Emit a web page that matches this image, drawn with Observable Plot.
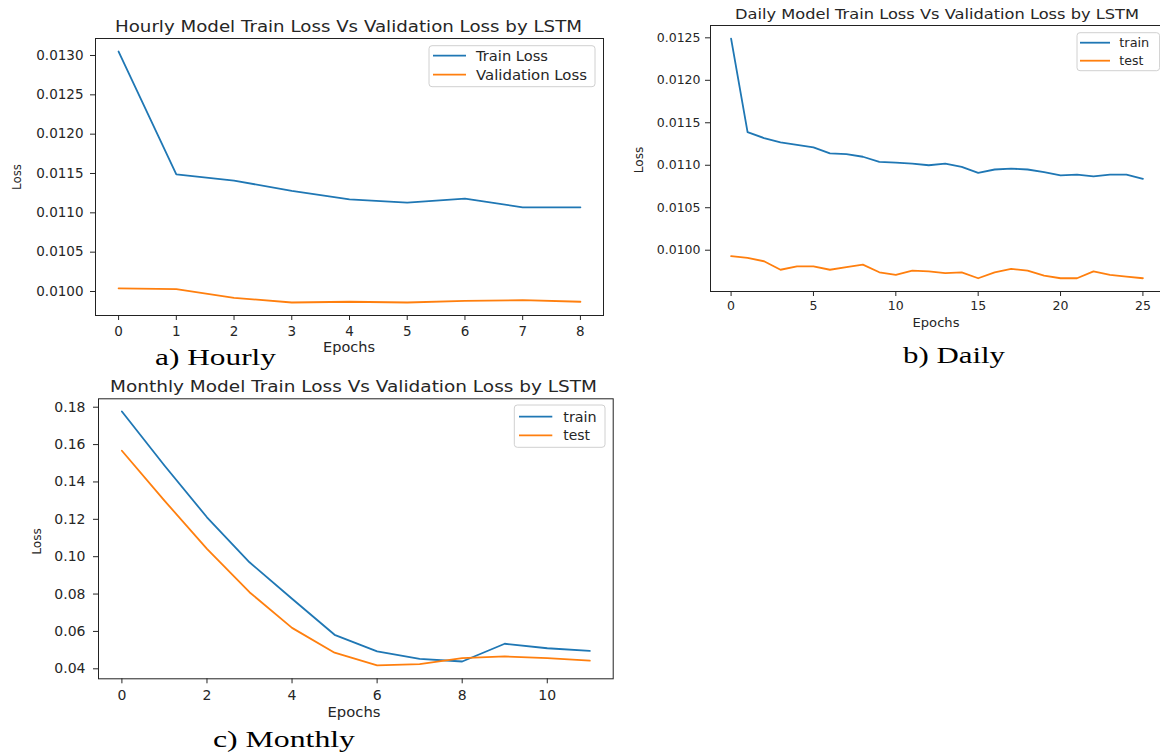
<!DOCTYPE html>
<html>
<head>
<meta charset="utf-8">
<script src="https://cdn.jsdelivr.net/npm/d3@7"></script>
<script src="https://cdn.jsdelivr.net/npm/@observablehq/plot@0.6"></script>
<style>
  html, body { margin: 0; padding: 0; background: #fff; overflow: hidden; }
  #page { position: relative; width: 1160px; height: 753px; overflow: hidden; background: #fff; }
  .panel { position: absolute; }
  #overlay { position: absolute; left: 0; top: 0; pointer-events: none; }
</style>
</head>
<body>
<div id="page">
  <div id="pa" class="panel" style="left:0px;top:0px;"></div>
  <div id="pb" class="panel" style="left:630px;top:0px;"></div>
  <div id="pc" class="panel" style="left:0px;top:375px;"></div>
</div>
<script>
// ---------------- data ----------------
const hourlyTrain = [0.01305, 0.01149, 0.01141, 0.01128, 0.01117, 0.01113, 0.01118, 0.01107, 0.01107];
const hourlyVal   = [0.01004, 0.01003, 0.00992, 0.00986, 0.00987, 0.00986, 0.00988, 0.00989, 0.00987];

const dailyTrain = [0.01249, 0.01139, 0.01132, 0.01127, 0.01124, 0.01121, 0.01114, 0.01113, 0.01110, 0.01104,
                    0.01103, 0.01102, 0.01100, 0.01102, 0.01098, 0.01091, 0.01095, 0.01096, 0.01095, 0.01092,
                    0.01088, 0.01089, 0.01087, 0.01089, 0.01089, 0.01084];
const dailyTest  = [0.00993, 0.00991, 0.00987, 0.00977, 0.00981, 0.00981, 0.00977, 0.00980, 0.00983, 0.00974,
                    0.00971, 0.00976, 0.00975, 0.00973, 0.00974, 0.00967, 0.00974, 0.00978, 0.00976, 0.00970,
                    0.00967, 0.00967, 0.00975, 0.00971, 0.00969, 0.00967];

const monthlyTrain = [0.1777, 0.1488, 0.1211, 0.0970, 0.0775, 0.0582, 0.0493, 0.0453, 0.0439, 0.0534, 0.0510, 0.0496];
const monthlyTest  = [0.1567, 0.1300, 0.1042, 0.0810, 0.0619, 0.0486, 0.0418, 0.0425, 0.0457, 0.0466, 0.0457, 0.0444];

const hourlyXTicks  = [0, 1, 2, 3, 4, 5, 6, 7, 8];
const hourlyYTicks  = [0.0100, 0.0105, 0.0110, 0.0115, 0.0120, 0.0125, 0.0130];
const dailyXTicks   = [0, 5, 10, 15, 20, 25];
const dailyYTicks   = [0.0100, 0.0105, 0.0110, 0.0115, 0.0120, 0.0125];
const monthlyXTicks = [0, 2, 4, 6, 8, 10];
const monthlyYTicks = [0.04, 0.06, 0.08, 0.10, 0.12, 0.14, 0.16, 0.18];

const titles = {
  a: "Hourly Model Train Loss Vs Validation Loss by LSTM",
  b: "Daily Model Train Loss Vs Validation Loss by LSTM",
  c: "Monthly Model Train Loss Vs Validation Loss by LSTM"
};
const captions = { a: "a) Hourly", b: "b) Daily", c: "c) Monthly" };
const legendA = ["Train Loss", "Validation Loss"];
const legendBC = ["train", "test"];

const BLUE = "#1f77b4", ORANGE = "#ff7f0e", INK = "#262626";

function rows(values) { return values.map((v, i) => ({epoch: i, loss: v})); }

function panel({el, width, height, margins, xDomain, yDomain, xTicks, yTicks, yFmt, series, fontSize, xPad, yPad}) {
  const [mt, mr, mb, ml] = margins;
  const chart = Plot.plot({
    width, height,
    marginTop: mt, marginRight: mr, marginBottom: mb, marginLeft: ml,
    style: {fontFamily: "DejaVu Sans", fontSize: fontSize + "px", color: INK, background: "transparent", maxWidth: "none", overflow: "visible"},
    x: {domain: xDomain},
    y: {domain: yDomain},
    marks: [
      ...series.map(s => Plot.line(rows(s.values), {x: "epoch", y: "loss", stroke: s.color, strokeWidth: 1.8})),
      Plot.axisX({ticks: xTicks, tickSize: 5, tickPadding: xPad, label: null, tickFormat: d3.format("d")}),
      Plot.axisY({ticks: yTicks, tickSize: 5, tickPadding: yPad, label: null, tickFormat: d3.format(yFmt)}),
      Plot.frame({stroke: "#222", strokeWidth: 1})
    ]
  });
  document.getElementById(el).appendChild(chart);
}

panel({el: "pa", width: 620, height: 345, margins: [38, 17, 30, 95],
  xDomain: [-0.4, 8.4], yDomain: [0.009695, 0.013216],
  xTicks: hourlyXTicks, yTicks: hourlyYTicks, yFmt: ".4f", fontSize: 13.5, xPad: 6, yPad: 7,
  series: [{values: hourlyTrain, color: BLUE}, {values: hourlyVal, color: ORANGE}]});

panel({el: "pb", width: 533, height: 320, margins: [25, 0, 29, 80],
  xDomain: [-1.25, 26.25], yDomain: [0.009514, 0.012645],
  xTicks: dailyXTicks, yTicks: dailyYTicks, yFmt: ".4f", fontSize: 12.5, xPad: 5, yPad: 5,
  series: [{values: dailyTrain, color: BLUE}, {values: dailyTest, color: ORANGE}]});

panel({el: "pc", width: 625, height: 330, margins: [23.3, 12.3, 26.7, 98],
  xDomain: [-0.55, 11.55], yDomain: [0.03465, 0.1845],
  xTicks: monthlyXTicks, yTicks: monthlyYTicks, yFmt: ".2f", fontSize: 14, xPad: 6, yPad: 8,
  series: [{values: monthlyTrain, color: BLUE}, {values: monthlyTest, color: ORANGE}]});

// ---------------- overlay: titles, axis labels, captions, legends ----------------
const ov = d3.select("#page").append("svg").attr("id", "overlay")
  .attr("width", 1160).attr("height", 753);

function txt(s, {x, y, w, size, family = "DejaVu Sans", anchor = "middle", rotate = false, fill = INK}) {
  const t = ov.append("text").text(s)
    .attr("font-family", family).attr("font-size", size).attr("fill", fill)
    .attr("text-anchor", anchor);
  if (w) t.attr("textLength", w).attr("lengthAdjust", "spacingAndGlyphs");
  if (rotate) {
    t.attr("transform", `translate(${x},${y}) rotate(-90)`).attr("dy", "0.35em");
  } else {
    t.attr("x", x).attr("y", y);
  }
  return t;
}

// titles
txt(titles.a, {x: 348.5, y: 31.5, w: 467, size: 15.5});
txt(titles.b, {x: 937, y: 18.5, w: 404, size: 14});
txt(titles.c, {x: 353.5, y: 391.5, w: 487, size: 15.5});

// axis labels
txt("Loss", {x: 16.5, y: 177, w: 26, size: 13, rotate: true});
txt("Loss", {x: 639, y: 160, w: 26.5, size: 12.5, rotate: true});
txt("Loss", {x: 36.7, y: 541.5, w: 26.5, size: 13, rotate: true});
txt("Epochs", {x: 349, y: 352, w: 52, size: 14});
txt("Epochs", {x: 936, y: 326.5, w: 47, size: 13});
txt("Epochs", {x: 354, y: 716.5, w: 53, size: 14});

// captions
const serif = "Liberation Serif";
txt(captions.a, {x: 215.5, y: 365, w: 121, size: 23, family: serif, fill: "#000"});
txt(captions.b, {x: 954, y: 362.5, w: 102, size: 23, family: serif, fill: "#000"});
txt(captions.c, {x: 284, y: 746.5, w: 142, size: 23, family: serif, fill: "#000"});

// legends
function legend({x, y, w, h, lx0, lx1, ly, tx, labels, widths, size}) {
  ov.append("rect").attr("x", x).attr("y", y).attr("width", w).attr("height", h)
    .attr("rx", 3).attr("fill", "#fff").attr("fill-opacity", 0.85)
    .attr("stroke", "#d0d0d0").attr("stroke-width", 1);
  const colors = [BLUE, ORANGE];
  labels.forEach((lab, i) => {
    ov.append("line").attr("x1", lx0).attr("x2", lx1).attr("y1", ly[i]).attr("y2", ly[i])
      .attr("stroke", colors[i]).attr("stroke-width", 1.8);
    txt(lab, {x: tx, y: ly[i] + size * 0.36, w: widths[i], size, anchor: "start"});
  });
}
legend({x: 429, y: 45.7, w: 166, h: 41, lx0: 433, lx1: 466, ly: [55.7, 74.7], tx: 476,
  labels: legendA, widths: [72, 111], size: 14});
legend({x: 1077, y: 32.7, w: 82.6, h: 38, lx0: 1080, lx1: 1110, ly: [42.7, 60.7], tx: 1119.3,
  labels: legendBC, widths: [30, 24], size: 13});
legend({x: 514.3, y: 405, w: 90.7, h: 42.3, lx0: 519, lx1: 552.3, ly: [416.7, 435.3], tx: 563.3,
  labels: legendBC, widths: [33.4, 26.7], size: 14});
</script>
</body>
</html>
